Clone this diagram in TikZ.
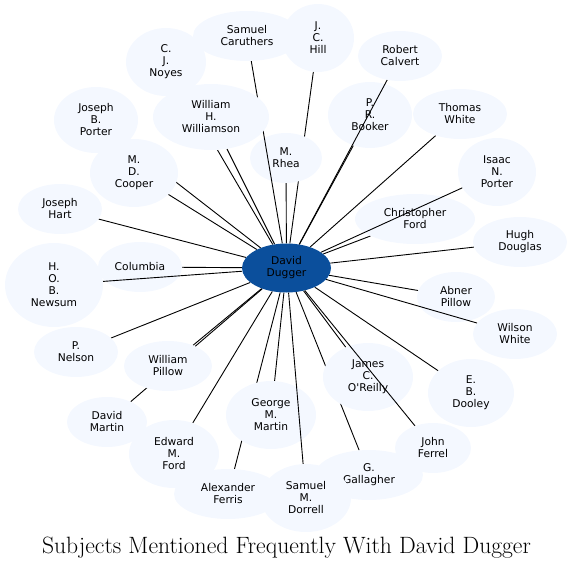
\documentclass[tikz,border=0pt]{standalone}
\usepackage{fontspec}
\newfontfamily\nodefont{DejaVu Sans}
\usetikzlibrary{shapes.geometric,backgrounds}
\pgfdeclarelayer{nodeslow}
\pgfdeclarelayer{edgemid}
\pgfsetlayers{background,nodeslow,edgemid,main}
\definecolor{nodefill}{HTML}{F4F8FF}
\definecolor{centerfill}{HTML}{0B4F9C}
\begin{document}
\begin{tikzpicture}[x=1pt,y=-1pt,
  subj/.style={ellipse,fill=nodefill,inner sep=0pt,align=center,
    font=\nodefont\fontsize{10.7}{12}\selectfont,text=black},
  hub/.style={subj,fill=centerfill},
  link/.style={draw=black,line width=0.9pt}]
\useasboundingbox (0,0) rectangle (573,567);
\newcommand\subjnode[5]{\node[subj,minimum width=#4*2pt,minimum height=#5*2pt] (#1) at (#2,#3)}
\begin{pgfonlayer}{nodeslow}
\subjnode{rhea}{286}{158}{36}{25} {M.\\Rhea};
\end{pgfonlayer}
\subjnode{caruthers}{247}{36}{54}{25} {Samuel\\Caruthers};
\subjnode{hill}{318}{38}{36}{34} {J.\\C.\\Hill};
\subjnode{noyes}{166}{62}{40}{34} {C.\\J.\\Noyes};
\subjnode{calvert}{400}{56}{42}{25} {Robert\\Calvert};
\subjnode{jbporter}{96}{120}{42}{33} {Joseph\\B.\\Porter};
\subjnode{williamson}{211}{117}{58}{33} {William\\H.\\Williamson};
\subjnode{booker}{370}{115}{42}{33} {P.\\R.\\Booker};
\subjnode{twhite}{460}{114}{47}{25} {Thomas\\White};
\subjnode{cooper}{134}{173}{44}{34} {M.\\D.\\Cooper};
\subjnode{iporter}{497}{172}{39}{34} {Isaac\\N.\\Porter};
\subjnode{hart}{60}{209}{42}{25} {Joseph\\Hart};
\subjnode{cford}{415}{219}{60}{25} {Christopher\\Ford};
\subjnode{douglas}{520}{242}{47}{25} {Hugh\\Douglas};
\subjnode{columbia}{140}{267}{42}{25} {Columbia};
\subjnode{newsum}{54}{285}{49}{42} {H.\\O.\\B.\\Newsum};
\subjnode{apillow}{456}{297}{39}{25} {Abner\\Pillow};
\subjnode{wwhite}{515}{334}{42}{25} {Wilson\\White};
\subjnode{nelson}{76}{352}{42}{25} {P.\\Nelson};
\subjnode{wpillow}{168}{366}{44}{25} {William\\Pillow};
\subjnode{oreilly}{368}{377}{45}{34} {James\\C.\\O'Reilly};
\subjnode{dooley}{471}{393}{43}{34} {E.\\B.\\Dooley};
\subjnode{dmartin}{107}{422}{40}{25} {David\\Martin};
\subjnode{gmartin}{271}{415}{45}{34} {George\\M.\\Martin};
\subjnode{eford}{174}{454}{45}{34} {Edward\\M.\\Ford};
\subjnode{ferrel}{433}{448}{38}{25} {John\\Ferrel};
\subjnode{gallagher}{369}{475}{54}{25} {G.\\Gallagher};
\subjnode{ferris}{228}{494}{54}{25} {Alexander\\Ferris};
\subjnode{dorrell}{306}{498}{45}{34} {Samuel\\M.\\Dorrell};
\node[hub,minimum width=89pt,minimum height=49pt] (dugger) at (286.5,268) {David\\Dugger};
\begin{pgfonlayer}{background}
\foreach \n in {hill,noyes,jbporter,williamson,booker,twhite,rhea,cooper,
  hart,cford,douglas,columbia,apillow,nelson,wpillow,oreilly,dooley,dmartin,
  gmartin,eford,gallagher,ferris}
  \draw[link] (dugger) -- (\n);
\end{pgfonlayer}
\begin{pgfonlayer}{edgemid}
\draw[link] (dugger) -- (caruthers);
\end{pgfonlayer}
\foreach \n in {calvert,newsum,iporter,wwhite,ferrel,dorrell}
  \draw[link] (dugger) -- (\n);
\node[anchor=base,font=\fontsize{23.6}{26}\selectfont,text=black] (title) at (286.5,553)
  {Subjects Mentioned Frequently With David Dugger};
\end{tikzpicture}
\end{document}
